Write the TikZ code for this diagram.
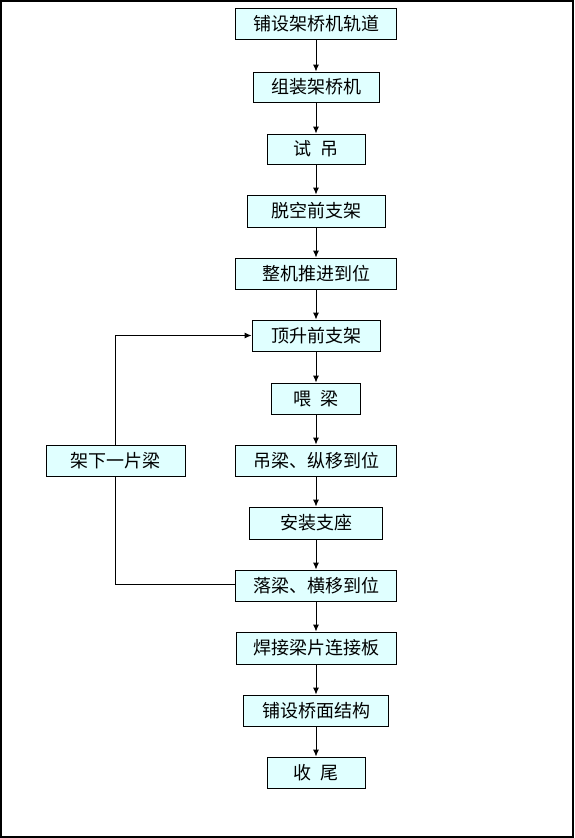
\documentclass[tikz,border=0pt]{standalone}
\usepackage{fontspec}
\newfontfamily\cjk{Noto Sans CJK SC}
\usetikzlibrary{arrows.meta}
\definecolor{boxfill}{HTML}{E0FFFF}
\newcommand{\gapsp}{\hspace{0.5em}}
\begin{document}
\begin{tikzpicture}[x=1pt,y=-1pt,
  stepbox/.style={draw=black,line width=0.9pt,fill=boxfill,inner sep=0pt,
    font=\cjk\fontsize{18}{20}\selectfont},
  flow/.style={line width=0.9pt,-{Latex[length=7pt,width=6pt]}},
  plain/.style={line width=0.9pt}]
\useasboundingbox (0,0) rectangle (574,838);
\draw[line width=1.2pt] (1,1) rectangle (573,837);
\node[stepbox,minimum width=161pt,minimum height=31pt] (n1) at (316,23.5) {铺设架桥机轨道};
\node[stepbox,minimum width=126pt,minimum height=30pt] (n2) at (316,87) {组装架桥机};
\node[stepbox,minimum width=98pt,minimum height=30pt] (n3) at (316,149) {试\gapsp 吊};
\node[stepbox,minimum width=138pt,minimum height=32pt] (n4) at (316,211) {脱空前支架};
\node[stepbox,minimum width=161pt,minimum height=31pt] (n5) at (316,273.5) {整机推进到位};
\node[stepbox,minimum width=128pt,minimum height=31pt] (n6) at (316,335.5) {顶升前支架};
\node[stepbox,minimum width=89pt,minimum height=31pt] (n7) at (316,398.5) {喂\gapsp 梁};
\node[stepbox,minimum width=161pt,minimum height=31pt] (n8) at (316,460.5) {吊梁、纵移到位};
\node[stepbox,minimum width=133pt,minimum height=32pt] (n9) at (316,523) {安装支座};
\node[stepbox,minimum width=161pt,minimum height=31pt] (n10) at (316,585.5) {落梁、横移到位};
\node[stepbox,minimum width=160pt,minimum height=32pt] (n11) at (316,648) {焊接梁片连接板};
\node[stepbox,minimum width=145pt,minimum height=31pt] (n12) at (316,710.5) {铺设桥面结构};
\node[stepbox,minimum width=98pt,minimum height=31pt] (n13) at (316,772.5) {收\gapsp 尾};
\node[stepbox,minimum width=139pt,minimum height=31pt] (side) at (115.5,460.5) {架下一片梁};
\foreach \a/\b in {n1/n2,n2/n3,n3/n4,n4/n5,n5/n6,n6/n7,n7/n8,n8/n9,n9/n10,n10/n11,n11/n12,n12/n13}
  \draw[flow] (\a) -- (\b);
\coordinate (c1) at (115.5,584);
\coordinate (c2) at (115.5,335.5);
\draw[plain] (n10.west |- c1) -- (c1) -- (side.south);
\draw[flow] (side.north) -- (c2) -- (n6.west);
\end{tikzpicture}
\end{document}
